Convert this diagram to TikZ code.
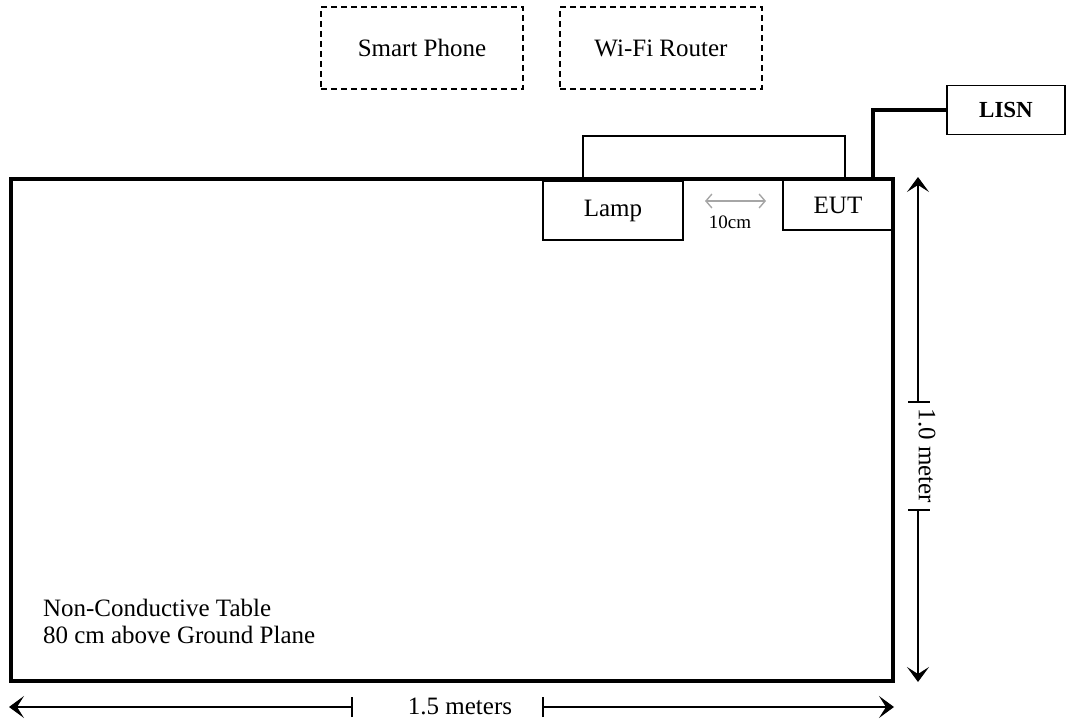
\documentclass[tikz,border=0pt]{standalone}
\usepackage{fontspec}
\setmainfont{Liberation Serif}
\usetikzlibrary{positioning,arrows.meta,calc}

\begin{document}
\begin{tikzpicture}[
    x=0.5pt, y=-0.5pt,
    every node/.style={font=\fontsize{12.5}{13.5}\selectfont},
    unit/.style={draw, line width=0.75pt, inner sep=0pt},
    wireless/.style={draw, line width=0.75pt, dash pattern=on 3pt off 2pt, inner sep=0pt,
        minimum width=101pt, minimum height=41pt},
    dimline/.style={line width=0.6pt, -{Stealth[length=7.5pt, width=11pt, inset=3.5pt]}},
    gapline/.style={gray!70, line width=0.7pt, {Straight Barb[length=3pt, width=7pt]}-{Straight Barb[length=3pt, width=7pt]}}
]
\useasboundingbox (0,0) rectangle (1067,722);

% === Table ===
\coordinate (tblNW) at (11,179);
\coordinate (tblSE) at (893,681);
\draw[line width=2pt] (tblNW) rectangle (tblSE);
\node[anchor=west, align=left] (tblText) at (36,621) {Non-Conductive Table\\80 cm above Ground Plane};

% === Wireless devices (dashed) ===
\node[wireless] (phone) at (422,48) {Smart Phone};
\node[wireless] (router) at (661,48) {Wi-Fi Router};

% === Devices on table ===
\node[unit, minimum width=70pt, minimum height=29.5pt] (lamp) at (613,210.5) {Lamp};
\node[unit, minimum width=55pt, minimum height=25pt] (eut) at (838,205) {EUT};

% LISN
\node[unit, minimum width=59pt, minimum height=24.5pt, font=\fontsize{11.5}{12}\selectfont\bfseries] (lisn) at (1006,110) {LISN};

% Lamp -- EUT link
\coordinate (linkL) at (583,136);
\coordinate (linkR) at (845,136);
\draw[line width=0.75pt] (linkL |- lamp.north) -- (linkL) -- (linkR) -- (linkR |- eut.north);

% Power cable to LISN
\coordinate (cableTop) at (873,110);
\draw[line width=1.6pt] (cableTop |- tblNW) -- (cableTop) -- (lisn.west);

% 10cm spacing
\coordinate (gapL) at (705,201);
\coordinate (gapR) at (766,201);
\draw[gapline] (gapL) -- (gapR);
\node[font=\fontsize{9.5}{10}\selectfont] (gapText) at (730,222) {10cm};

% === Dimensions ===
% 1.0 meter (vertical)
\coordinate (vTop) at (918,177);
\coordinate (vBot) at (918,682);
\coordinate (vTickA) at (918,402);
\coordinate (vTickB) at (918,510);
\node[rotate=-90] (vText) at (927,456) {1.0 meter};
\draw[dimline] (vTickA) -- (vTop);
\draw[dimline] (vTickB) -- (vBot);
\draw[line width=0.6pt] ([xshift=-5pt]vTickA) -- ([xshift=6pt]vTickA);
\draw[line width=0.6pt] ([xshift=-5pt]vTickB) -- ([xshift=6pt]vTickB);

% 1.5 meters (horizontal)
\coordinate (hLeft) at (9,707);
\coordinate (hRight) at (894,707);
\coordinate (hTickA) at (352,707);
\coordinate (hTickB) at (543,707);
\node (hText) at (460,706) {1.5 meters};
\draw[dimline] (hTickA) -- (hLeft);
\draw[dimline] (hTickB) -- (hRight);
\draw[line width=0.6pt] ([yshift=-5pt]hTickA) -- ([yshift=5pt]hTickA);
\draw[line width=0.6pt] ([yshift=-5pt]hTickB) -- ([yshift=5pt]hTickB);

\end{tikzpicture}
\end{document}
